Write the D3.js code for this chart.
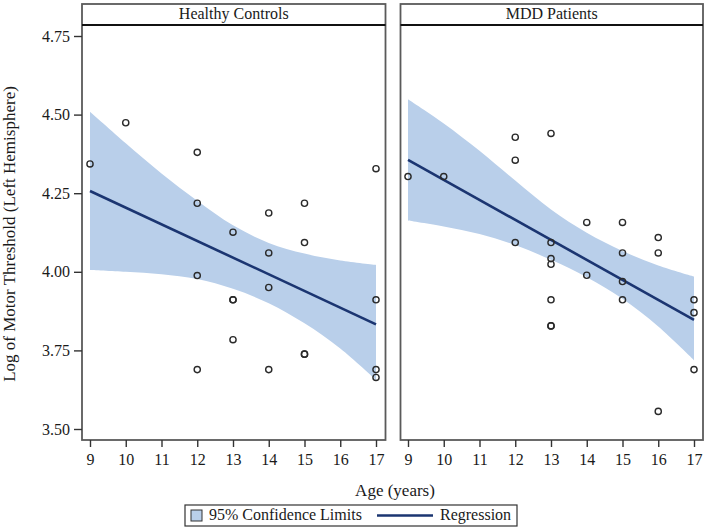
<!DOCTYPE html>
<html><head><meta charset="utf-8">
<script src="https://cdn.jsdelivr.net/npm/d3@7"></script>
<style>
body{margin:0;background:#fff}
svg text{font-family:"Liberation Serif","Times New Roman",serif;fill:#1a1a1a}
</style>
</head><body>
<svg id="c" width="708" height="530"></svg>
<script>
// ---------- data ----------
const panelTitles = ["Healthy Controls", "MDD Patients"];
const xTickValues = [9, 10, 11, 12, 13, 14, 15, 16, 17];
const yTickValues = [3.50, 3.75, 4.00, 4.25, 4.50, 4.75];

const hcAge    = [9, 10, 12, 12, 12, 12, 13, 13, 13, 13, 14, 14, 14, 14, 15, 15, 15, 15, 17, 17, 17, 17];
const hcLogMT  = [4.343, 4.474, 4.380, 4.218, 3.988, 3.689, 4.126, 3.911, 3.911, 3.784, 4.187, 4.060, 3.950, 3.689, 4.218, 4.093, 3.738, 3.738, 4.328, 3.911, 3.689, 3.664];

const mddAge   = [9, 10, 12, 12, 12, 13, 13, 13, 13, 13, 13, 13, 14, 14, 15, 15, 15, 15, 16, 16, 16, 17, 17, 17];
const mddLogMT = [4.303, 4.303, 4.428, 4.355, 4.093, 4.440, 4.093, 4.042, 4.024, 3.911, 3.828, 3.828, 4.157, 3.989, 4.157, 4.060, 3.969, 3.911, 4.109, 4.060, 3.556, 3.911, 3.870, 3.689];

const bandAge  = [9, 10, 11, 12, 13, 14, 15, 16, 17];
const hcUpper  = [4.509, 4.409, 4.313, 4.226, 4.148, 4.092, 4.058, 4.036, 4.022];
const hcLower  = [4.006, 4.000, 3.992, 3.977, 3.946, 3.900, 3.836, 3.756, 3.656];
const mddUpper = [4.549, 4.472, 4.385, 4.290, 4.198, 4.124, 4.066, 4.020, 3.985];
const mddLower = [4.163, 4.144, 4.120, 4.085, 4.038, 3.983, 3.914, 3.826, 3.719];

const regAge   = [9, 17];
const hcReg    = [4.257, 3.833];
const mddReg   = [4.356, 3.847];

const legendLabels = ["95% Confidence Limits", "Regression"];
const yTitle = "Log of Motor Threshold (Left Hemisphere)";
const xTitle = "Age (years)";

// ---------- styles ----------
const bandColor = "#b9cfea";
const lineColor = "#1b3571";
const frameColor = "#5a5a5a";
const serif = '"Liberation Serif","Times New Roman",serif';

const svg = d3.select("#c");

const y = d3.scaleLinear().domain([3.50, 4.75]).range([429, 36]);

const panels = [
  {title: panelTitles[0], x0: 82, x1: 385.5, r0: 90, r1: 376,
   age: hcAge, val: hcLogMT, up: hcUpper, lo: hcLower, reg: hcReg},
  {title: panelTitles[1], x0: 400.5, x1: 703, r0: 408, r1: 694,
   age: mddAge, val: mddLogMT, up: mddUpper, lo: mddLower, reg: mddReg}
];

const frameTop = 4, headerBottom = 25, frameBottom = 440;

panels.forEach((p, i) => {
  const x = d3.scaleLinear().domain([9, 17]).range([p.r0, p.r1]);
  const g = svg.append("g");

  // band
  const bandData = bandAge.map((a, k) => ({a, u: p.up[k], l: p.lo[k]}));
  g.append("path").datum(bandData)
    .attr("fill", bandColor)
    .attr("d", d3.area().curve(d3.curveCatmullRom.alpha(0.5))
      .x(d => x(d.a)).y0(d => y(d.l)).y1(d => y(d.u)));

  // regression line
  const regData = regAge.map((a, k) => ({a, v: p.reg[k]}));
  g.append("path").datum(regData)
    .attr("fill", "none").attr("stroke", lineColor).attr("stroke-width", 2.6)
    .attr("d", d3.line().x(d => x(d.a)).y(d => y(d.v)));

  // points
  g.selectAll("circle.pt").data(p.age.map((a, k) => ({a, v: p.val[k]})))
    .join("circle").attr("class", "pt")
    .attr("cx", d => x(d.a)).attr("cy", d => y(d.v)).attr("r", 3.1)
    .attr("fill", "none").attr("stroke", "#2a2a2a").attr("stroke-width", 1.4);

  // frame
  g.append("rect").attr("x", p.x0).attr("y", frameTop)
    .attr("width", p.x1 - p.x0).attr("height", frameBottom - frameTop)
    .attr("fill", "none").attr("stroke", frameColor).attr("stroke-width", 1.8);
  g.append("line").attr("x1", p.x0).attr("x2", p.x1)
    .attr("y1", headerBottom).attr("y2", headerBottom)
    .attr("stroke", "#111").attr("stroke-width", 2.2);
  g.append("text").attr("x", (p.x0 + p.x1) / 2).attr("y", 15)
    .attr("text-anchor", "middle").attr("dominant-baseline", "middle")
    .style("font-size", "16px").style("font-family", serif).text(p.title);

  // x axis
  const ax = g.append("g").attr("transform", `translate(0,${frameBottom})`)
    .call(d3.axisBottom(x).tickValues(xTickValues).tickFormat(d3.format("d"))
      .tickSize(7).tickPadding(7));
  ax.select(".domain").remove();
  ax.selectAll(".tick line").attr("stroke", "#333").attr("stroke-width", 1.4);
  ax.selectAll(".tick text").style("font-size", "16px")
    .style("font-family", serif).attr("fill", "#1a1a1a");
});

// y axis
const ay = svg.append("g").attr("transform", "translate(82,0)")
  .call(d3.axisLeft(y).tickValues(yTickValues).tickFormat(d3.format(".2f"))
    .tickSize(8).tickPadding(4));
ay.select(".domain").remove();
ay.selectAll(".tick line").attr("stroke", "#333").attr("stroke-width", 1.4);
ay.selectAll(".tick text").style("font-size", "16px")
  .style("font-family", serif).attr("fill", "#1a1a1a");

// axis titles
svg.append("text").attr("transform", "translate(11,234) rotate(-90)")
  .attr("text-anchor", "middle").attr("dominant-baseline", "middle")
  .style("font-size", "17px").style("font-family", serif).text(yTitle);
svg.append("text").attr("x", 395).attr("y", 492)
  .attr("text-anchor", "middle").attr("dominant-baseline", "middle")
  .style("font-size", "17px").style("font-family", serif).text(xTitle);

// legend
const lg = svg.append("g");
lg.append("rect").attr("x", 185).attr("y", 505).attr("width", 332).attr("height", 21)
  .attr("fill", "#fff").attr("stroke", "#333").attr("stroke-width", 1.2);
lg.append("rect").attr("x", 191).attr("y", 510).attr("width", 11).attr("height", 11)
  .attr("fill", bandColor).attr("stroke", "#333").attr("stroke-width", 1);
lg.append("text").attr("x", 209).attr("y", 516).attr("dominant-baseline", "middle")
  .style("font-size", "16px").style("font-family", serif).text(legendLabels[0]);
lg.append("line").attr("x1", 377).attr("x2", 433).attr("y1", 515.5).attr("y2", 515.5)
  .attr("stroke", lineColor).attr("stroke-width", 2.4);
lg.append("text").attr("x", 440).attr("y", 516).attr("dominant-baseline", "middle")
  .style("font-size", "16px").style("font-family", serif).text(legendLabels[1]);
</script>
</body></html>
